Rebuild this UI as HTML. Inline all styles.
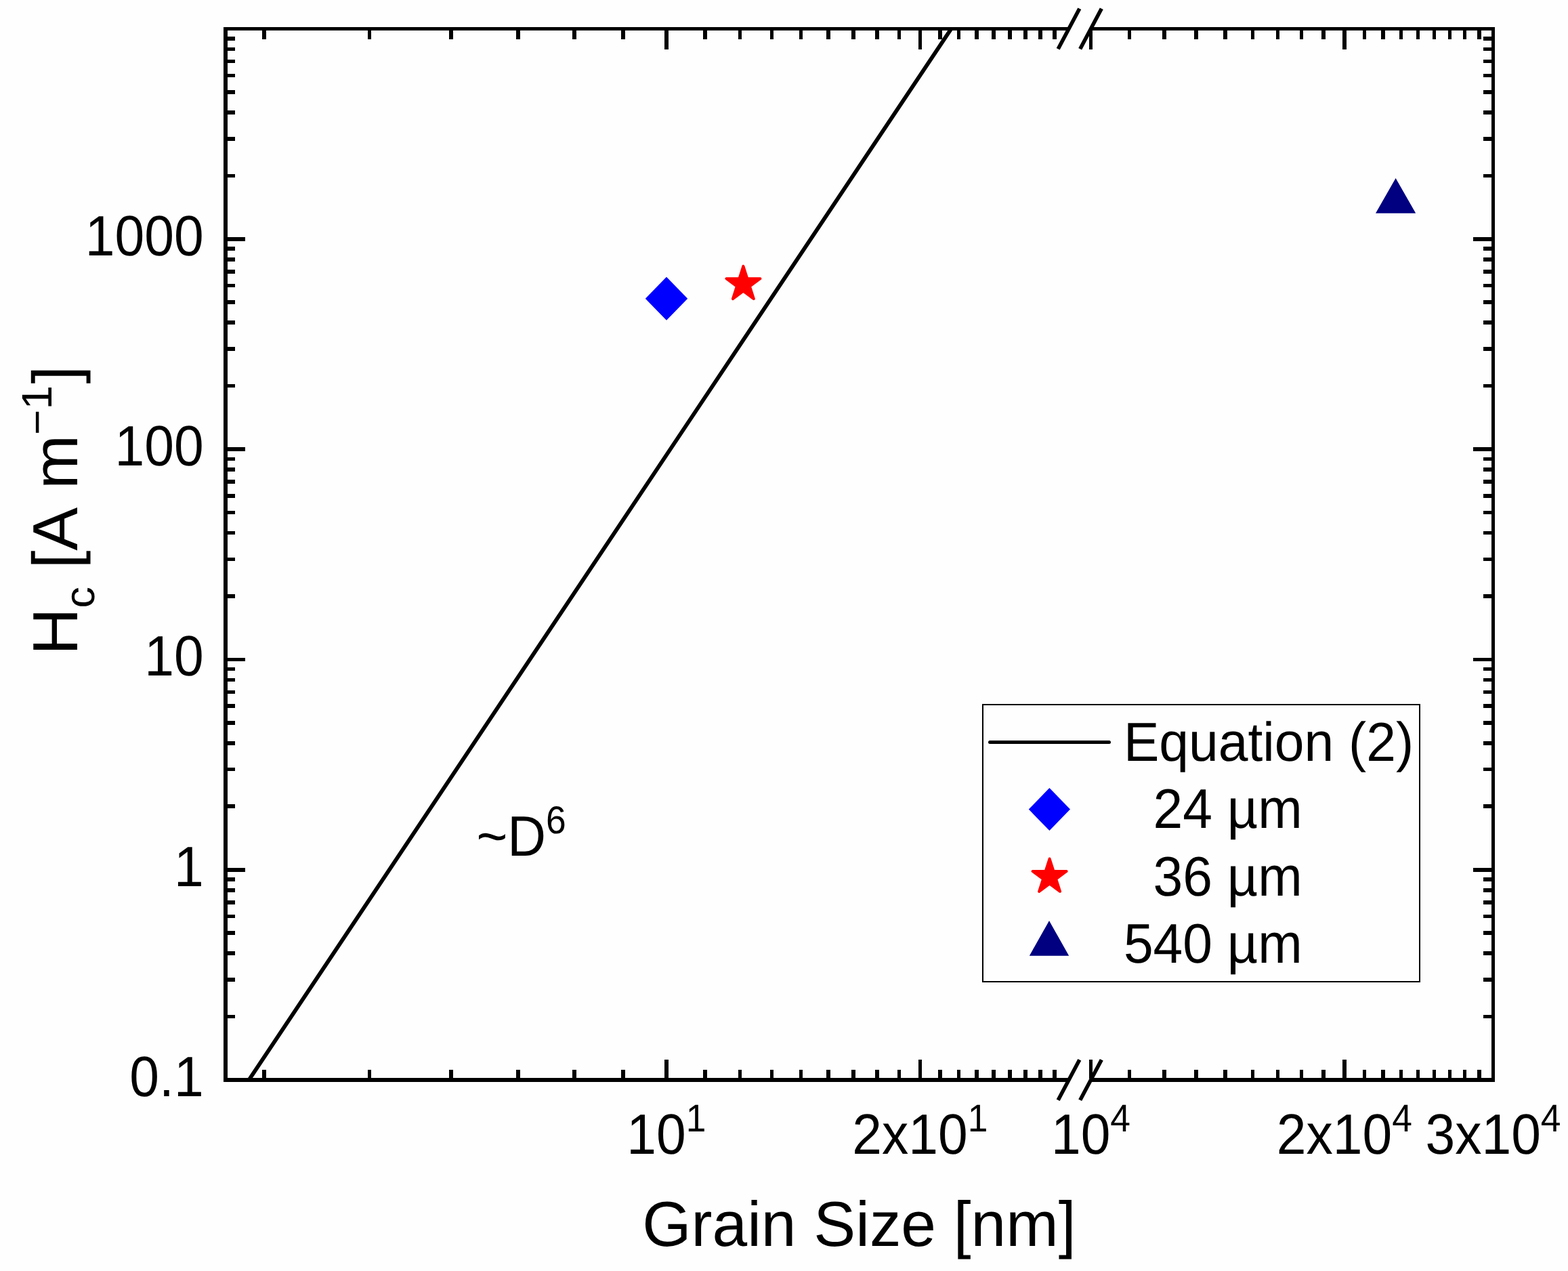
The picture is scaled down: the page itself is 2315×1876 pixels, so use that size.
<!DOCTYPE html>
<html lang="en">
<head>
<meta charset="utf-8">
<title>Coercivity versus grain size</title>
<style>
html, body { margin: 0; padding: 0; background: #fefefe; }
body { width: 2315px; height: 1876px; overflow: hidden; }
svg { display: block; }
svg text { font-family: "Liberation Sans", Arial, Helvetica, sans-serif; fill: #000; white-space: pre; font-kerning: none; font-variant-ligatures: none; text-rendering: geometricPrecision; }
</style>
</head>
<body>
<svg width="2315" height="1876" viewBox="0 0 2315 1876" role="img" aria-label="Log-log plot of coercivity Hc versus grain size">
<rect x="0" y="0" width="2315" height="1876" fill="#fefefe"/>
<defs><clipPath id="plotarea"><rect x="336" y="45" width="1866" height="1546"/></clipPath></defs>
<g id="curve" clip-path="url(#plotarea)">
<line x1="362.15" y1="1602" x2="1410.05" y2="34" stroke="#000" stroke-width="5.8"/>
</g>
<g id="frame" fill="#000" shape-rendering="crispEdges">
<rect x="330" y="40" width="6" height="1557"/>
<rect x="2202" y="40" width="5" height="1557"/>
<rect x="330" y="40" width="1248" height="5"/>
<rect x="1610.5" y="40" width="596.5" height="5"/>
<rect x="330" y="1591" width="1248" height="6"/>
<rect x="1610.5" y="1591" width="596.5" height="6"/>
</g>
<g id="breaks" stroke="#000" stroke-width="5.6">
<line x1="1562.2" y1="72.3" x2="1593.8" y2="12.7"/>
<line x1="1594.7" y1="72.3" x2="1626.3" y2="12.7"/>
<line x1="1562.2" y1="1623.8" x2="1593.8" y2="1564.2"/>
<line x1="1594.7" y1="1623.8" x2="1626.3" y2="1564.2"/>
</g>
<g id="xticks" fill="#000" shape-rendering="crispEdges">
<rect x="387.32" y="1579" width="5.6" height="13"/>
<rect x="387.32" y="44" width="5.6" height="14"/>
<rect x="542.81" y="1579" width="5.6" height="13"/>
<rect x="542.81" y="44" width="5.6" height="14"/>
<rect x="663.41" y="1579" width="5.6" height="13"/>
<rect x="663.41" y="44" width="5.6" height="14"/>
<rect x="761.95" y="1579" width="5.6" height="13"/>
<rect x="761.95" y="44" width="5.6" height="14"/>
<rect x="845.27" y="1579" width="5.6" height="13"/>
<rect x="845.27" y="44" width="5.6" height="14"/>
<rect x="917.44" y="1579" width="5.6" height="13"/>
<rect x="917.44" y="44" width="5.6" height="14"/>
<rect x="981.1" y="1564" width="5.6" height="28"/>
<rect x="981.1" y="44" width="5.6" height="29"/>
<rect x="1038.05" y="1579" width="5.6" height="13"/>
<rect x="1038.05" y="44" width="5.6" height="14"/>
<rect x="1089.56" y="1579" width="5.6" height="13"/>
<rect x="1089.56" y="44" width="5.6" height="14"/>
<rect x="1136.59" y="1579" width="5.6" height="13"/>
<rect x="1136.59" y="44" width="5.6" height="14"/>
<rect x="1179.85" y="1579" width="5.6" height="13"/>
<rect x="1179.85" y="44" width="5.6" height="14"/>
<rect x="1219.9" y="1579" width="5.6" height="13"/>
<rect x="1219.9" y="44" width="5.6" height="14"/>
<rect x="1257.19" y="1579" width="5.6" height="13"/>
<rect x="1257.19" y="44" width="5.6" height="14"/>
<rect x="1292.07" y="1579" width="5.6" height="13"/>
<rect x="1292.07" y="44" width="5.6" height="14"/>
<rect x="1324.84" y="1579" width="5.6" height="13"/>
<rect x="1324.84" y="44" width="5.6" height="14"/>
<rect x="1355.73" y="1564" width="5.6" height="28"/>
<rect x="1355.73" y="44" width="5.6" height="29"/>
<rect x="1384.95" y="1579" width="5.6" height="13"/>
<rect x="1384.95" y="44" width="5.6" height="14"/>
<rect x="1412.68" y="1579" width="5.6" height="13"/>
<rect x="1412.68" y="44" width="5.6" height="14"/>
<rect x="1439.05" y="1579" width="5.6" height="13"/>
<rect x="1439.05" y="44" width="5.6" height="14"/>
<rect x="1464.19" y="1579" width="5.6" height="13"/>
<rect x="1464.19" y="44" width="5.6" height="14"/>
<rect x="1488.22" y="1579" width="5.6" height="13"/>
<rect x="1488.22" y="44" width="5.6" height="14"/>
<rect x="1511.22" y="1579" width="5.6" height="13"/>
<rect x="1511.22" y="44" width="5.6" height="14"/>
<rect x="1533.28" y="1579" width="5.6" height="13"/>
<rect x="1533.28" y="44" width="5.6" height="14"/>
<rect x="1554.48" y="1579" width="5.6" height="13"/>
<rect x="1554.48" y="44" width="5.6" height="14"/>
<rect x="1607.7" y="1564" width="5.6" height="28"/>
<rect x="1607.7" y="44" width="5.6" height="29"/>
<rect x="1664.65" y="1579" width="5.6" height="13"/>
<rect x="1664.65" y="44" width="5.6" height="14"/>
<rect x="1716.16" y="1579" width="5.6" height="13"/>
<rect x="1716.16" y="44" width="5.6" height="14"/>
<rect x="1763.19" y="1579" width="5.6" height="13"/>
<rect x="1763.19" y="44" width="5.6" height="14"/>
<rect x="1806.45" y="1579" width="5.6" height="13"/>
<rect x="1806.45" y="44" width="5.6" height="14"/>
<rect x="1846.5" y="1579" width="5.6" height="13"/>
<rect x="1846.5" y="44" width="5.6" height="14"/>
<rect x="1883.79" y="1579" width="5.6" height="13"/>
<rect x="1883.79" y="44" width="5.6" height="14"/>
<rect x="1918.67" y="1579" width="5.6" height="13"/>
<rect x="1918.67" y="44" width="5.6" height="14"/>
<rect x="1951.44" y="1579" width="5.6" height="13"/>
<rect x="1951.44" y="44" width="5.6" height="14"/>
<rect x="1982.33" y="1564" width="5.6" height="28"/>
<rect x="1982.33" y="44" width="5.6" height="29"/>
<rect x="2011.55" y="1579" width="5.6" height="13"/>
<rect x="2011.55" y="44" width="5.6" height="14"/>
<rect x="2039.28" y="1579" width="5.6" height="13"/>
<rect x="2039.28" y="44" width="5.6" height="14"/>
<rect x="2065.65" y="1579" width="5.6" height="13"/>
<rect x="2065.65" y="44" width="5.6" height="14"/>
<rect x="2090.79" y="1579" width="5.6" height="13"/>
<rect x="2090.79" y="44" width="5.6" height="14"/>
<rect x="2114.82" y="1579" width="5.6" height="13"/>
<rect x="2114.82" y="44" width="5.6" height="14"/>
<rect x="2137.82" y="1579" width="5.6" height="13"/>
<rect x="2137.82" y="44" width="5.6" height="14"/>
<rect x="2159.88" y="1579" width="5.6" height="13"/>
<rect x="2159.88" y="44" width="5.6" height="14"/>
<rect x="2181.08" y="1579" width="5.6" height="13"/>
<rect x="2181.08" y="44" width="5.6" height="14"/>
</g>
<g id="yticks" fill="#000" shape-rendering="crispEdges">
<rect x="335" y="1497.79" width="12" height="5.6"/>
<rect x="2190" y="1497.79" width="13" height="5.6"/>
<rect x="335" y="1443.15" width="12" height="5.6"/>
<rect x="2190" y="1443.15" width="13" height="5.6"/>
<rect x="335" y="1404.38" width="12" height="5.6"/>
<rect x="2190" y="1404.38" width="13" height="5.6"/>
<rect x="335" y="1374.31" width="12" height="5.6"/>
<rect x="2190" y="1374.31" width="13" height="5.6"/>
<rect x="335" y="1349.74" width="12" height="5.6"/>
<rect x="2190" y="1349.74" width="13" height="5.6"/>
<rect x="335" y="1328.97" width="12" height="5.6"/>
<rect x="2190" y="1328.97" width="13" height="5.6"/>
<rect x="335" y="1310.97" width="12" height="5.6"/>
<rect x="2190" y="1310.97" width="13" height="5.6"/>
<rect x="335" y="1295.1" width="12" height="5.6"/>
<rect x="2190" y="1295.1" width="13" height="5.6"/>
<rect x="335" y="1280.9" width="27" height="5.6"/>
<rect x="2175" y="1280.9" width="28" height="5.6"/>
<rect x="335" y="1187.49" width="12" height="5.6"/>
<rect x="2190" y="1187.49" width="13" height="5.6"/>
<rect x="335" y="1132.85" width="12" height="5.6"/>
<rect x="2190" y="1132.85" width="13" height="5.6"/>
<rect x="335" y="1094.08" width="12" height="5.6"/>
<rect x="2190" y="1094.08" width="13" height="5.6"/>
<rect x="335" y="1064.01" width="12" height="5.6"/>
<rect x="2190" y="1064.01" width="13" height="5.6"/>
<rect x="335" y="1039.44" width="12" height="5.6"/>
<rect x="2190" y="1039.44" width="13" height="5.6"/>
<rect x="335" y="1018.67" width="12" height="5.6"/>
<rect x="2190" y="1018.67" width="13" height="5.6"/>
<rect x="335" y="1000.67" width="12" height="5.6"/>
<rect x="2190" y="1000.67" width="13" height="5.6"/>
<rect x="335" y="984.8" width="12" height="5.6"/>
<rect x="2190" y="984.8" width="13" height="5.6"/>
<rect x="335" y="970.6" width="27" height="5.6"/>
<rect x="2175" y="970.6" width="28" height="5.6"/>
<rect x="335" y="877.19" width="12" height="5.6"/>
<rect x="2190" y="877.19" width="13" height="5.6"/>
<rect x="335" y="822.55" width="12" height="5.6"/>
<rect x="2190" y="822.55" width="13" height="5.6"/>
<rect x="335" y="783.78" width="12" height="5.6"/>
<rect x="2190" y="783.78" width="13" height="5.6"/>
<rect x="335" y="753.71" width="12" height="5.6"/>
<rect x="2190" y="753.71" width="13" height="5.6"/>
<rect x="335" y="729.14" width="12" height="5.6"/>
<rect x="2190" y="729.14" width="13" height="5.6"/>
<rect x="335" y="708.37" width="12" height="5.6"/>
<rect x="2190" y="708.37" width="13" height="5.6"/>
<rect x="335" y="690.37" width="12" height="5.6"/>
<rect x="2190" y="690.37" width="13" height="5.6"/>
<rect x="335" y="674.5" width="12" height="5.6"/>
<rect x="2190" y="674.5" width="13" height="5.6"/>
<rect x="335" y="660.3" width="27" height="5.6"/>
<rect x="2175" y="660.3" width="28" height="5.6"/>
<rect x="335" y="566.89" width="12" height="5.6"/>
<rect x="2190" y="566.89" width="13" height="5.6"/>
<rect x="335" y="512.25" width="12" height="5.6"/>
<rect x="2190" y="512.25" width="13" height="5.6"/>
<rect x="335" y="473.48" width="12" height="5.6"/>
<rect x="2190" y="473.48" width="13" height="5.6"/>
<rect x="335" y="443.41" width="12" height="5.6"/>
<rect x="2190" y="443.41" width="13" height="5.6"/>
<rect x="335" y="418.84" width="12" height="5.6"/>
<rect x="2190" y="418.84" width="13" height="5.6"/>
<rect x="335" y="398.07" width="12" height="5.6"/>
<rect x="2190" y="398.07" width="13" height="5.6"/>
<rect x="335" y="380.07" width="12" height="5.6"/>
<rect x="2190" y="380.07" width="13" height="5.6"/>
<rect x="335" y="364.2" width="12" height="5.6"/>
<rect x="2190" y="364.2" width="13" height="5.6"/>
<rect x="335" y="350" width="27" height="5.6"/>
<rect x="2175" y="350" width="28" height="5.6"/>
<rect x="335" y="256.59" width="12" height="5.6"/>
<rect x="2190" y="256.59" width="13" height="5.6"/>
<rect x="335" y="201.95" width="12" height="5.6"/>
<rect x="2190" y="201.95" width="13" height="5.6"/>
<rect x="335" y="163.18" width="12" height="5.6"/>
<rect x="2190" y="163.18" width="13" height="5.6"/>
<rect x="335" y="133.11" width="12" height="5.6"/>
<rect x="2190" y="133.11" width="13" height="5.6"/>
<rect x="335" y="108.54" width="12" height="5.6"/>
<rect x="2190" y="108.54" width="13" height="5.6"/>
<rect x="335" y="87.77" width="12" height="5.6"/>
<rect x="2190" y="87.77" width="13" height="5.6"/>
<rect x="335" y="69.77" width="12" height="5.6"/>
<rect x="2190" y="69.77" width="13" height="5.6"/>
<rect x="335" y="53.9" width="12" height="5.6"/>
<rect x="2190" y="53.9" width="13" height="5.6"/>
</g>
<g id="points">
<polygon points="952.8,440.8 984,408.8 1015.2,440.8 984,472.8" fill="#0000ff"/>
<polygon points="1097.4,392.8 1103.31,411.25 1122.41,411.25 1106.95,422.65 1112.86,441.1 1097.4,429.7 1081.94,441.1 1087.85,422.65 1072.39,411.25 1091.49,411.25" fill="#ff0000" stroke="#ff0000" stroke-width="4" stroke-linejoin="round"/>
<polygon points="2031,314.8 2060.6,262.9 2090.2,314.8" fill="#000080"/>
</g>
<g id="legend">
<rect x="1451.05" y="1040.05" width="645.2" height="408.7" fill="none" stroke="#000" stroke-width="1.9" shape-rendering="crispEdges"/>
<line x1="1461.5" y1="1095.5" x2="1637.5" y2="1095.5" stroke="#000" stroke-width="5" stroke-linecap="round"/>
<polygon points="1518.8,1194.6 1549.4,1163.1 1580,1194.6 1549.4,1226.1" fill="#0000ff"/>
<polygon points="1549.6,1267.5 1555.51,1285.95 1574.61,1285.95 1559.15,1297.35 1565.06,1315.8 1549.6,1304.4 1534.14,1315.8 1540.05,1297.35 1524.59,1285.95 1543.69,1285.95" fill="#ff0000" stroke="#ff0000" stroke-width="4" stroke-linejoin="round"/>
<polygon points="1519.8,1410.8 1549,1359.1 1578.2,1410.8" fill="#000080"/>
<text transform="translate(1658.9,1123) scale(1,1.03)" font-size="78.6">Equation (2)</text>
<text transform="translate(1702.61,1221.8) scale(1,1.05)" font-size="78.6">24 µm</text>
<text transform="translate(1702.61,1321.8) scale(1,1.05)" font-size="78.6">36 µm</text>
<text transform="translate(1658.9,1421) scale(1,1.05)" font-size="78.6">540 µm</text>
</g>
<g id="ylabels">
<text transform="translate(300.6,376.6) scale(1,1.07)" font-size="78.6" text-anchor="end">1000</text>
<text transform="translate(300.6,686.9) scale(1,1.07)" font-size="78.6" text-anchor="end">100</text>
<text transform="translate(300.6,997.2) scale(1,1.07)" font-size="78.6" text-anchor="end">10</text>
<text transform="translate(300.6,1307.5) scale(1,1.07)" font-size="78.6" text-anchor="end">1</text>
<text transform="translate(300.6,1617.8) scale(1,1.07)" font-size="78.6" text-anchor="end">0.1</text>
</g>
<g id="xlabels">
<text transform="translate(983.9,1703) scale(1,1.07)" font-size="78.6" text-anchor="middle">10<tspan font-size="53.4" dy="-30.93">1</tspan></text>
<text transform="translate(1358.4,1703) scale(1,1.07)" font-size="78.6" text-anchor="middle">2x10<tspan font-size="53.4" dy="-30.93">1</tspan></text>
<text transform="translate(1610.5,1703) scale(1,1.07)" font-size="78.6" text-anchor="middle">10<tspan font-size="53.4" dy="-30.93">4</tspan></text>
<text transform="translate(1984.8,1703) scale(1,1.07)" font-size="78.6" text-anchor="middle">2x10<tspan font-size="53.4" dy="-30.93">4</tspan></text>
<text transform="translate(2204.5,1703) scale(1,1.07)" font-size="78.6" text-anchor="middle">3x10<tspan font-size="53.4" dy="-30.93">4</tspan></text>
</g>
<text transform="translate(703.4,1262.9) scale(1,1.07)" font-size="78.6">~D<tspan font-size="53.4" dy="-30.37">6</tspan></text>
<text transform="translate(1268.4,1838.9) scale(1,1.01)" font-size="92.9" text-anchor="middle">Grain Size [nm]</text>
<text transform="translate(114,966.8) rotate(-90) scale(1,0.98)" font-size="96">H<tspan font-size="63" dy="25.92">c</tspan><tspan dy="-25.92"> [A m</tspan><tspan font-size="64" dy="-38.78">−1</tspan><tspan dy="38.78" dx="2.5">]</tspan></text>
</svg>
</body>
</html>
